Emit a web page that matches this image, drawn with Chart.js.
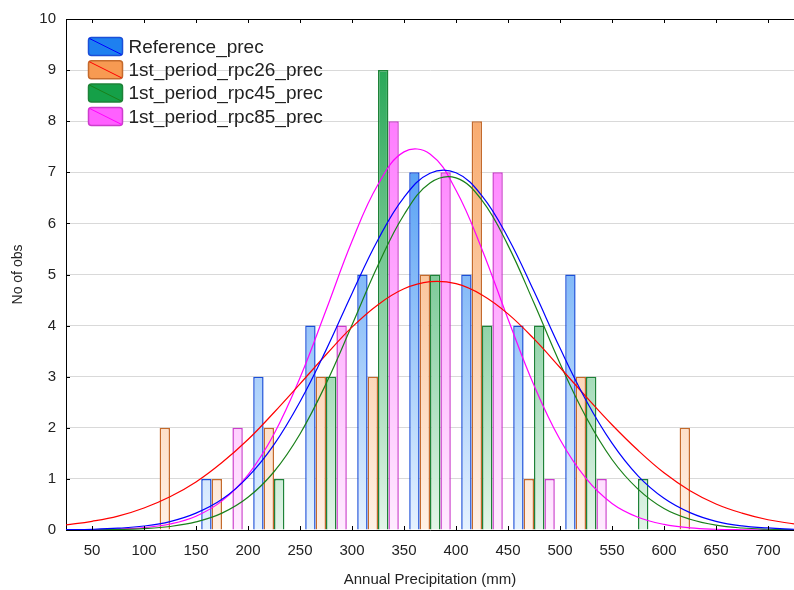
<!DOCTYPE html>
<html lang="en">
<head>
<meta charset="utf-8">
<title>Annual precipitation histogram</title>
<script src="https://cdn.jsdelivr.net/npm/chart.js@4.4.0/dist/chart.umd.min.js"></script>
<style>
  body { margin: 0; background: #fff; }
</style>
</head>
<body>
<canvas id="chart" width="794" height="590"></canvas>
<script>
// histogram bins, 50 mm wide (start of each bin)
const binStarts = [100, 150, 200, 250, 300, 350, 400, 450, 500, 550, 600];
const seriesNames = ['Reference_prec', '1st_period_rpc26_prec', '1st_period_rpc45_prec', '1st_period_rpc85_prec'];

// No of obs per bin
const referencePrec = [0, 1, 3, 4, 5, 7, 5, 4, 5, 0, 0];
const rpc26Prec     = [2, 1, 2, 3, 3, 5, 8, 1, 3, 0, 2];
const rpc45Prec     = [0, 0, 1, 3, 9, 5, 4, 4, 3, 1, 0];
const rpc85Prec     = [0, 2, 0, 4, 8, 7, 7, 1, 1, 0, 0];

// fitted normal curves
const curveX = [25, 50, 75, 100, 125, 150, 175, 200, 225, 250, 275, 300, 325, 350, 375,
                400, 425, 450, 475, 500, 525, 550, 575, 600, 625, 650, 675, 700, 725];
const referenceCurve = [0.006, 0.014, 0.035, 0.078, 0.165, 0.33, 0.60, 1.04, 1.67, 2.51, 3.52, 4.63, 5.68, 6.51, 6.98,
                        6.99, 6.54, 5.72, 4.67, 3.56, 2.54, 1.70, 1.06, 0.62, 0.34, 0.17, 0.08, 0.04, 0.015];
const rpc26Curve = [0.10, 0.17, 0.27, 0.43, 0.65, 0.94, 1.32, 1.77, 2.30, 2.86, 3.43, 3.97, 4.41, 4.72, 4.86,
                    4.82, 4.60, 4.23, 3.74, 3.18, 2.61, 2.06, 1.56, 1.12, 0.77, 0.51, 0.33, 0.20, 0.12];
const rpc45Curve = [0.001, 0.004, 0.011, 0.028, 0.069, 0.158, 0.33, 0.64, 1.14, 1.88, 2.86, 4.01, 5.18, 6.17, 6.79,
                    6.89, 6.45, 5.57, 4.44, 3.26, 2.21, 1.38, 0.80, 0.42, 0.21, 0.094, 0.039, 0.015, 0.005];
const rpc85Curve = [0.002, 0.006, 0.017, 0.047, 0.118, 0.27, 0.57, 1.08, 1.88, 2.98, 4.30, 5.65, 6.76, 7.40, 7.36,
                    6.65, 5.49, 4.13, 2.83, 1.77, 1.01, 0.52, 0.25, 0.11, 0.042, 0.015, 0.005, 0.0014, 0.0004];

const xTicks = [50, 100, 150, 200, 250, 300, 350, 400, 450, 500, 550, 600, 650, 700];
const yTicks = [0, 1, 2, 3, 4, 5, 6, 7, 8, 9, 10];

const barTop    = ['#1e80f0', '#f79a52', '#15a048', '#ff60ff'];
const barBottom = ['#e6f2ff', '#fff1e6', '#e3f5e9', '#ffecff'];
const barEdge   = ['#1b4fd8', '#c46a2c', '#1e8238', '#cc3dcc'];
const curveColors = ['#0000ff', '#ff0000', '#1a801a', '#ff00ff'];

const font = '"Liberation Sans", Arial, sans-serif';

function gradientFor(i) {
  return (c) => {
    const a = c.chart.chartArea;
    if (!a) return barTop[i];
    const g = c.chart.ctx.createLinearGradient(0, a.bottom, 0, a.top);
    g.addColorStop(0, barBottom[i]);
    g.addColorStop(1, barTop[i]);
    return g;
  };
}

const counts = [referencePrec, rpc26Prec, rpc45Prec, rpc85Prec];
const curves = [referenceCurve, rpc26Curve, rpc45Curve, rpc85Curve];

const barSets = counts.map((vals, i) => ({
  type: 'bar',
  label: seriesNames[i],
  data: binStarts.map((b, k) => ({ x: b + 25, y: vals[k] === 0 ? null : vals[k] })),
  backgroundColor: gradientFor(i),
  borderColor: barEdge[i],
  borderWidth: 1.5,
  barPercentage: 1,
  categoryPercentage: 0.8,
  order: 2
}));

const lineSets = curves.map((vals, i) => ({
  type: 'line',
  label: seriesNames[i] + ' (normal)',
  data: curveX.map((x, k) => ({ x: x, y: vals[k] })),
  borderColor: curveColors[i],
  borderWidth: 1.2,
  pointRadius: 0,
  tension: 0.4,
  fill: false,
  order: 1
}));

const framePlugin = {
  id: 'frame',
  afterDatasetsDraw(chart) {
    const { ctx, chartArea: a, scales } = chart;
    ctx.save();
    ctx.strokeStyle = '#000';
    ctx.lineWidth = 1;
    ctx.beginPath();
    ctx.moveTo(a.left, a.top + 0.5);
    ctx.lineTo(a.right, a.top + 0.5);
    xTicks.forEach(v => {
      const px = Math.round(scales.x.getPixelForValue(v)) + 0.5;
      ctx.moveTo(px, a.top); ctx.lineTo(px, a.top + 4);
      ctx.moveTo(px, a.bottom); ctx.lineTo(px, a.bottom - 4);
    });
    yTicks.forEach(v => {
      const py = Math.round(scales.y.getPixelForValue(v)) + 0.5;
      ctx.moveTo(a.left, py); ctx.lineTo(a.left + 4, py);
    });
    ctx.stroke();

    // legend, top left inside the plot
    ctx.font = '19px ' + font;
    ctx.textBaseline = 'middle';
    seriesNames.forEach((name, i) => {
      const bx = a.left + 22.5, by = a.top + 18.5 + i * 23.3;
      ctx.beginPath();
      if (ctx.roundRect) ctx.roundRect(bx, by, 34, 18, 3); else ctx.rect(bx, by, 34, 18);
      ctx.fillStyle = barTop[i];
      ctx.fill();
      ctx.strokeStyle = barEdge[i];
      ctx.lineWidth = 1.5;
      ctx.stroke();
      ctx.beginPath();
      ctx.moveTo(bx + 1, by + 1);
      ctx.lineTo(bx + 33, by + 17);
      ctx.strokeStyle = curveColors[i];
      ctx.lineWidth = 1;
      ctx.stroke();
      ctx.fillStyle = '#222';
      ctx.fillText(name, bx + 40, by + 10);
    });
    ctx.restore();
  }
};

const ctx = document.getElementById('chart').getContext('2d');
new Chart(ctx, {
  type: 'bar',
  data: { datasets: barSets.concat(lineSets) },
  plugins: [framePlugin],
  options: {
    responsive: false,
    animation: false,
    layout: { padding: { top: 19, right: 0, left: 0, bottom: 0 } },
    plugins: { legend: { display: false }, tooltip: { enabled: false } },
    scales: {
      x: {
        type: 'linear',
        min: 25,
        max: 725,
        offset: false,
        afterBuildTicks: s => { s.ticks = xTicks.map(v => ({ value: v })); },
        afterFit: s => { s.height = 60; },
        grid: { display: false, drawTicks: false },
        border: { display: true, color: '#000', width: 1 },
        ticks: { padding: 12, color: '#222', font: { size: 15, family: font }, maxRotation: 0, autoSkip: false },
        title: { display: true, text: 'Annual Precipitation (mm)', color: '#222', font: { size: 15, family: font }, padding: { top: 4, bottom: 1 } }
      },
      y: {
        min: 0,
        max: 10,
        afterBuildTicks: s => { s.ticks = yTicks.map(v => ({ value: v })); },
        afterFit: s => { s.width = 66; },
        grid: { color: '#d9d9d9', lineWidth: 1, drawTicks: false },
        border: { display: true, color: '#000', width: 1 },
        ticks: { padding: 10, color: '#222', font: { size: 15, family: font } },
        title: { display: true, text: 'No of obs', color: '#222', font: { size: 14, family: font }, padding: { top: 10, bottom: 4 } }
      }
    }
  }
});
</script>
</body>
</html>
